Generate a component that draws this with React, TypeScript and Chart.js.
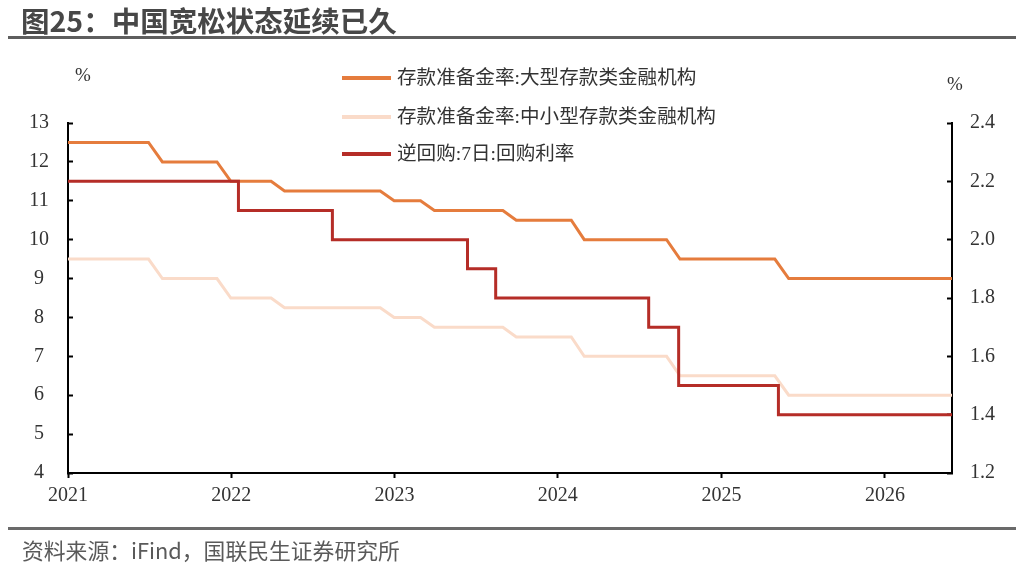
import React, { useEffect, useRef } from 'react';
import { Chart, registerables } from 'chart.js';

Chart.register(...registerables);

// ---- data ----
const rrrMonths = [
  '2020-12',
  '2021-01', '2021-02', '2021-03', '2021-04', '2021-05', '2021-06',
  '2021-07', '2021-08', '2021-09', '2021-10', '2021-11', '2021-12',
  '2022-01', '2022-02', '2022-03', '2022-04', '2022-05', '2022-06',
  '2022-07', '2022-08', '2022-09', '2022-10', '2022-11', '2022-12',
  '2023-01', '2023-02', '2023-03', '2023-04', '2023-05', '2023-06',
  '2023-07', '2023-08', '2023-09', '2023-10', '2023-11', '2023-12',
  '2024-01', '2024-02', '2024-03', '2024-04', '2024-05', '2024-06',
  '2024-07', '2024-08', '2024-09', '2024-10', '2024-11', '2024-12',
  '2025-01', '2025-02', '2025-03', '2025-04', '2025-05', '2025-06',
  '2025-07', '2025-08', '2025-09', '2025-10', '2025-11', '2025-12',
  '2026-01', '2026-02', '2026-03', '2026-04', '2026-05',
];

const largeRRR = [
  12.5,
  12.5, 12.5, 12.5, 12.5, 12.5, 12.5,
  12.0, 12.0, 12.0, 12.0, 12.0, 11.5,
  11.5, 11.5, 11.5, 11.25, 11.25, 11.25,
  11.25, 11.25, 11.25, 11.25, 11.25, 11.0,
  11.0, 11.0, 10.75, 10.75, 10.75, 10.75,
  10.75, 10.75, 10.5, 10.5, 10.5, 10.5,
  10.5, 10.0, 10.0, 10.0, 10.0, 10.0,
  10.0, 10.0, 9.5, 9.5, 9.5, 9.5,
  9.5, 9.5, 9.5, 9.5, 9.0, 9.0,
  9.0, 9.0, 9.0, 9.0, 9.0, 9.0,
  9.0, 9.0, 9.0, 9.0, 9.0,
];

const smallRRR = [
  9.5,
  9.5, 9.5, 9.5, 9.5, 9.5, 9.5,
  9.0, 9.0, 9.0, 9.0, 9.0, 8.5,
  8.5, 8.5, 8.5, 8.25, 8.25, 8.25,
  8.25, 8.25, 8.25, 8.25, 8.25, 8.0,
  8.0, 8.0, 7.75, 7.75, 7.75, 7.75,
  7.75, 7.75, 7.5, 7.5, 7.5, 7.5,
  7.5, 7.0, 7.0, 7.0, 7.0, 7.0,
  7.0, 7.0, 6.5, 6.5, 6.5, 6.5,
  6.5, 6.5, 6.5, 6.5, 6.0, 6.0,
  6.0, 6.0, 6.0, 6.0, 6.0, 6.0,
  6.0, 6.0, 6.0, 6.0, 6.0,
];

const repoDates = [
  '2021-01-01', '2022-01-17', '2022-08-15', '2023-06-13', '2023-08-15',
  '2024-07-22', '2024-09-27', '2025-05-08', '2026-05-31',
];
const repoRates = [2.2, 2.1, 2.0, 1.9, 1.8, 1.7, 1.5, 1.4, 1.4];

const seriesLabels = [
  '存款准备金率:大型存款类金融机构',
  '存款准备金率:中小型存款类金融机构',
  '逆回购:7日:回购利率',
];
const seriesColors = ['#E57C3D', '#FADBC9', '#B52D27'];

const yearTicks = [2021, 2022, 2023, 2024, 2025, 2026];
const leftTicks = [4, 5, 6, 7, 8, 9, 10, 11, 12, 13];
const rightTicks = [1.2, 1.4, 1.6, 1.8, 2.0, 2.2, 2.4];
const xStart = '2021-01-01';
const xEnd = '2026-05-31';

const TITLE = '图25：中国宽松状态延续已久';
const SOURCE = '资料来源：iFind，国联民生证券研究所';

// ---- helpers ----
const BASE = Date.UTC(2021, 0, 1);
const DAY = 86400000;
function dayNum(s: string): number {
  const [y, m, d] = s.split('-').map(Number);
  return (Date.UTC(y, m - 1, d) - BASE) / DAY;
}
function monthEnd(s: string): number {
  const [y, m] = s.split('-').map(Number);
  return (Date.UTC(y, m, 0) - BASE) / DAY;
}

const SERIF = '"Liberation Serif", "Noto Sans CJK SC", serif';
const TICK_FONT = { family: SERIF, size: 20 };
const TEXT_COLOR = '#333333';

const legendRowsY = [78, 117, 154];

const legendPlugin = {
  id: 'customLegend',
  afterDraw(chart: any) {
    const ctx = chart.ctx;
    [0, 1, 2].forEach((i) => {
      const ds = chart.data.datasets[i];
      const y = legendRowsY[i];
      ctx.save();
      ctx.strokeStyle = ds.borderColor;
      ctx.lineWidth = 4;
      ctx.beginPath();
      ctx.moveTo(342, y);
      ctx.lineTo(391, y);
      ctx.stroke();
      ctx.fillStyle = TEXT_COLOR;
      ctx.font = `19.6px ${SERIF}`;
      ctx.textBaseline = 'middle';
      ctx.textAlign = 'left';
      ctx.fillText(ds.label, 397, y + 1);
      ctx.restore();
    });
    ctx.save();
    ctx.fillStyle = TEXT_COLOR;
    ctx.font = `19px ${SERIF}`;
    ctx.textAlign = 'center';
    ctx.textBaseline = 'middle';
    ctx.fillText('%', 83, 76);
    ctx.fillText('%', 955, 85);
    ctx.restore();
  },
};

export default function App() {
  const ref = useRef<HTMLCanvasElement | null>(null);

  useEffect(() => {
    if (!ref.current) return;
    const largeData = rrrMonths.map((m, i) => ({ x: monthEnd(m), y: largeRRR[i] }));
    const smallData = rrrMonths.map((m, i) => ({ x: monthEnd(m), y: smallRRR[i] }));
    const repoData = repoDates.map((d, i) => ({ x: dayNum(d), y: repoRates[i] }));

    const chart = new Chart(ref.current, {
      type: 'line',
      data: {
        datasets: [
          {
            label: seriesLabels[0],
            data: largeData,
            borderColor: seriesColors[0],
            backgroundColor: seriesColors[0],
            borderWidth: 3,
            pointRadius: 0,
            yAxisID: 'y',
            order: 1,
            clip: 0,
          },
          {
            label: seriesLabels[1],
            data: smallData,
            borderColor: seriesColors[1],
            backgroundColor: seriesColors[1],
            borderWidth: 3,
            pointRadius: 0,
            yAxisID: 'y',
            order: 2,
            clip: 0,
          },
          {
            label: seriesLabels[2],
            data: repoData,
            borderColor: seriesColors[2],
            backgroundColor: seriesColors[2],
            borderWidth: 3,
            pointRadius: 0,
            stepped: true,
            yAxisID: 'y1',
            order: 0,
            clip: 0,
          },
        ] as any,
      },
      options: {
        animation: false,
        responsive: false,
        devicePixelRatio: 1,
        layout: { padding: { top: 123, bottom: 0, left: 0, right: 0 } },
        plugins: {
          legend: { display: false },
          tooltip: { enabled: false },
        },
        elements: { line: { tension: 0, borderCapStyle: 'butt', borderJoinStyle: 'miter' } },
        scales: {
          x: {
            type: 'linear',
            min: dayNum(xStart),
            max: dayNum(xEnd),
            afterBuildTicks: (s: any) => {
              s.ticks = yearTicks.map((y) => ({ value: dayNum(`${y}-01-01`) }));
            },
            afterFit: (s: any) => {
              s.height = 95;
            },
            ticks: {
              autoSkip: false,
              maxRotation: 0,
              padding: 6,
              font: TICK_FONT,
              color: TEXT_COLOR,
              callback: (v: any) => String(new Date(BASE + Number(v) * DAY).getUTCFullYear()),
            },
            grid: { drawOnChartArea: false, tickLength: 5, tickColor: '#000', tickWidth: 2 },
            border: { color: '#000', width: 2 },
          },
          y: {
            type: 'linear',
            position: 'left',
            min: 4,
            max: 13,
            afterBuildTicks: (s: any) => {
              s.ticks = leftTicks.map((v) => ({ value: v }));
            },
            afterFit: (s: any) => {
              s.width = 68;
            },
            ticks: {
              crossAlign: 'center',
              padding: 24,
              font: TICK_FONT,
              color: TEXT_COLOR,
              callback: (v: any) => String(v),
            },
            grid: { drawOnChartArea: false, tickLength: -5, tickColor: '#000', tickWidth: 2 },
            border: { color: '#000', width: 2 },
          },
          y1: {
            type: 'linear',
            position: 'right',
            min: 1.2,
            max: 2.4,
            afterBuildTicks: (s: any) => {
              s.ticks = rightTicks.map((v) => ({ value: v }));
            },
            afterFit: (s: any) => {
              s.width = 72;
            },
            ticks: {
              crossAlign: 'near',
              padding: 23,
              font: TICK_FONT,
              color: TEXT_COLOR,
              callback: (v: any) => Number(v).toFixed(1),
            },
            grid: { drawOnChartArea: false, tickLength: -5, tickColor: '#000', tickWidth: 2 },
            border: { color: '#000', width: 2 },
          },
        },
      } as any,
      plugins: [legendPlugin],
    });
    return () => chart.destroy();
  }, []);

  return (
    <div
      style={{
        position: 'fixed',
        left: 0,
        top: 0,
        width: 1024,
        height: 568,
        background: '#fff',
        overflow: 'hidden',
      }}
    >
      <canvas ref={ref} width={1024} height={568} style={{ position: 'absolute', left: 0, top: 0 }} />
      <div
        style={{
          position: 'absolute',
          left: 21,
          top: 2,
          fontFamily: '"Noto Sans CJK SC", sans-serif',
          fontWeight: 700,
          fontSize: 28.5,
          lineHeight: '36px',
          color: '#474747',
          whiteSpace: 'nowrap',
        }}
      >
        {TITLE}
      </div>
      <div style={{ position: 'absolute', left: 8, top: 36, width: 1008, height: 3, background: '#5e5e5e' }} />
      <div style={{ position: 'absolute', left: 8, top: 527, width: 1008, height: 3, background: '#6a6a6a' }} />
      <div
        style={{
          position: 'absolute',
          left: 22,
          top: 536,
          fontFamily: '"Noto Sans CJK SC", sans-serif',
          fontSize: 21.8,
          lineHeight: '28px',
          color: '#5a5a5a',
          whiteSpace: 'nowrap',
        }}
      >
        {SOURCE}
      </div>
    </div>
  );
}
